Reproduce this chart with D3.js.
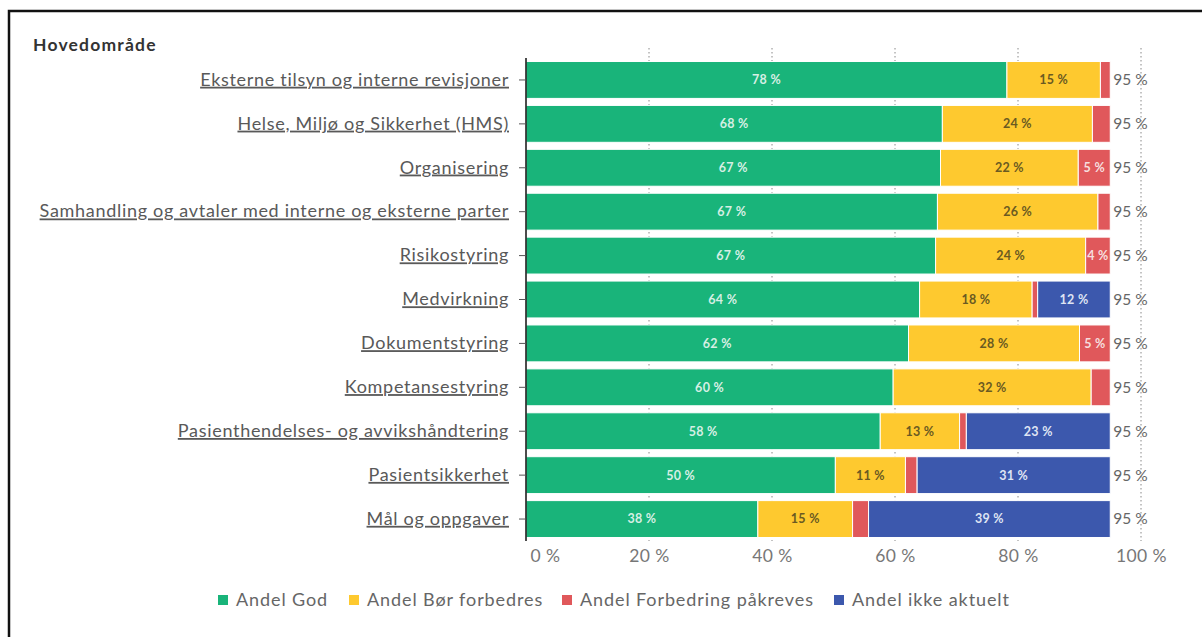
<!DOCTYPE html>
<html>
<head>
<meta charset="utf-8">
<script src="https://cdn.jsdelivr.net/npm/d3@7"></script>
<style>
	body { margin: 0; background: #fff; }
	svg { display: block; font-family: Lato, "Open Sans", sans-serif; }
</style>
</head>
<body>
<svg id="chart" width="1202" height="637"></svg>
<script>
const categories = [
	"Eksterne tilsyn og interne revisjoner",
	"Helse, Miljø og Sikkerhet (HMS)",
	"Organisering",
	"Samhandling og avtaler med interne og eksterne parter",
	"Risikostyring",
	"Medvirkning",
	"Dokumentstyring",
	"Kompetansestyring",
	"Pasienthendelses- og avvikshåndtering",
	"Pasientsikkerhet",
	"Mål og oppgaver"
];
const seriesNames = ["Andel God", "Andel Bør forbedres", "Andel Forbedring påkreves", "Andel ikke aktuelt"];
const andelGod = [78.2, 67.7, 67.4, 66.9, 66.6, 64.0, 62.2, 59.7, 57.6, 50.3, 37.7];
const andelBor = [15.2, 24.4, 22.4, 26.1, 24.4, 18.3, 27.8, 32.2, 12.9, 11.4, 15.4];
const andelForbedring = [1.6, 2.9, 5.2, 2.0, 4.0, 0.9, 5.0, 3.1, 1.1, 1.9, 2.6];
const andelIkke = [0, 0, 0, 0, 0, 11.8, 0, 0, 23.4, 31.4, 39.3];
const totals = [95, 95, 95, 95, 95, 95, 95, 95, 95, 95, 95];
const xTicks = [0, 20, 40, 60, 80, 100];

const colors = ["#19b47a", "#fec92f", "#e0585b", "#3c58ad"];
const labelColors = ["#d6efe4", "#6a5a22", "#f6dede", "#dfe4f3"];

const svg = d3.select("#chart");

// frame from the screenshot
svg.append("path")
	.attr("d", "M9,640 L9,11 L1210,11")
	.attr("fill", "none")
	.attr("stroke", "#111")
	.attr("stroke-width", 2.5);

svg.append("text")
	.attr("x", 33)
	.attr("y", 51)
	.attr("font-size", 17.5)
	.attr("font-weight", 700)
	.attr("letter-spacing", 1.2)
	.attr("fill", "#333")
	.text("Hovedområde");

const x = d3.scaleLinear().domain([0, 100]).range([526, 1141]);
const y = d3.scaleBand().domain(categories).range([58, 541]).paddingInner(0.16).paddingOuter(0.08);

// grid
svg.append("g")
	.selectAll("line")
	.data(xTicks.slice(1))
	.enter().append("line")
	.attr("x1", (d) => x(d))
	.attr("x2", (d) => x(d))
	.attr("y1", 48)
	.attr("y2", 541)
	.attr("stroke", "#888")
	.attr("stroke-dasharray", "1.5,2.5");

const rows = categories.map((c, i) => {
	return { cat: c, vals: [andelGod[i], andelBor[i], andelForbedring[i], andelIkke[i]], total: totals[i] };
});

const rowG = svg.append("g").selectAll("g")
	.data(rows)
	.enter().append("g");

rowG.each(function (d) {
	const g = d3.select(this);
	let start = 0;
	d.vals.forEach((v, k) => {
		if (v <= 0) return;
		const x0 = x(start), x1 = x(start + v);
		g.append("rect")
			.attr("x", x0)
			.attr("y", y(d.cat))
			.attr("width", x1 - x0)
			.attr("height", y.bandwidth())
			.attr("fill", colors[k])
			.attr("stroke", "#fff")
			.attr("stroke-width", 1);
		if (v >= 3.5) {
			g.append("text")
				.attr("x", (x0 + x1) / 2)
				.attr("y", y(d.cat) + y.bandwidth() / 2)
				.attr("dy", "0.35em")
				.attr("text-anchor", "middle")
				.attr("font-size", 12.5)
				.attr("font-weight", 700)
				.attr("letter-spacing", 0.3)
				.attr("fill", labelColors[k])
				.text(Math.round(v) + " %");
		}
		start += v;
	});
	g.append("text")
		.attr("x", x(d.total) + 3)
		.attr("y", y(d.cat) + y.bandwidth() / 2)
		.attr("dy", "0.35em")
		.attr("font-size", 15.5)
		.attr("fill", "#666")
		.text(d.total + " %");
});

// y axis
const yAxis = svg.append("g")
	.attr("transform", "translate(" + x(0) + ",0)")
	.call(d3.axisLeft(y).tickSize(7).tickPadding(10));
yAxis.select(".domain").attr("stroke", "#111").attr("stroke-width", 1.5).attr("d", "M0,58V541");
yAxis.selectAll(".tick line").attr("stroke", "#555");
yAxis.selectAll(".tick text")
	.attr("font-size", 18)
	.attr("font-family", "Lato, sans-serif")
	.attr("letter-spacing", 0.7)
	.attr("fill", "#595959")
	.style("text-decoration", "underline");

// x axis
const xAxis = svg.append("g")
	.attr("transform", "translate(0,541)")
	.call(d3.axisBottom(x).tickValues(xTicks).tickSize(0).tickPadding(9).tickFormat((d) => d + " %"));
xAxis.select(".domain").remove();
xAxis.selectAll(".tick text")
	.attr("font-size", 17.5)
	.attr("font-family", "Lato, sans-serif")
	.attr("letter-spacing", 0.4)
	.attr("fill", "#777");
xAxis.selectAll(".tick text").filter((d) => d === 0)
	.attr("text-anchor", "start")
	.attr("x", 4);

// legend
const legendX = [218, 349, 562, 834];
const legend = svg.append("g").selectAll("g")
	.data(seriesNames)
	.enter().append("g")
	.attr("transform", (d, i) => "translate(" + legendX[i] + ",600)");
legend.append("rect")
	.attr("x", 0)
	.attr("y", -5)
	.attr("width", 10)
	.attr("height", 10)
	.attr("fill", (d, i) => colors[i]);
legend.append("text")
	.attr("x", 18)
	.attr("dy", "0.35em")
	.attr("font-size", 18)
	.attr("letter-spacing", 0.9)
	.attr("fill", "#666")
	.text((d) => d);
</script>
</body>
</html>
